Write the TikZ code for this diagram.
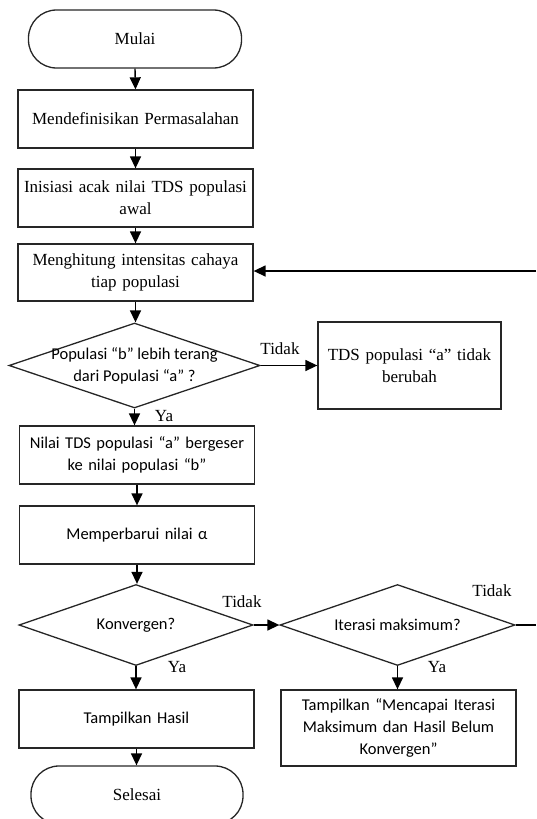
\documentclass[tikz,border=0pt]{standalone}
\usepackage{fontspec}
\setmainfont{Liberation Serif}
\newfontfamily\calib{Carlito}
\usetikzlibrary{shapes.geometric,arrows.meta}
\tikzset{
  base/.style={draw=black!85, line width=1.3pt, inner sep=2pt},
  serif/.style={font=\fontsize{17}{22}\selectfont},
  sans/.style={font=\calib\fontsize{16.5}{22}\selectfont},
  proc/.style={base, rectangle, minimum width=235pt, minimum height=58pt, align=center, text width=225pt},
  term/.style={base, rectangle, rounded corners=28pt, minimum width=213pt, minimum height=58pt},
  dia/.style={base, diamond, inner sep=0pt},
  lbl/.style={serif, inner sep=0pt},
  arr/.style={line width=1.4pt, -{Triangle[length=12pt,width=11pt]}},
  ln/.style={line width=1.4pt}
}
\begin{document}
\begin{tikzpicture}[x=1pt,y=-1pt]
\useasboundingbox (0,0) rectangle (536,819);
% main column
\node[term, serif] (mulai) at (135,39) {Mulai};
\node[proc, serif] (b1) at (135.5,119) {Mendefinisikan Permasalahan};
\node[proc, serif] (b2) at (135.5,198) {Inisiasi acak nilai TDS populasi\\awal};
\node[proc, serif, minimum height=57pt] (b3) at (135.5,272.5) {Menghitung intensitas cahaya\\tiap populasi};
\node[dia, minimum width=251pt, minimum height=85pt] (d1) at (134.5,365.5) {};
\node[sans, align=center, inner sep=0pt] (d1t) at (d1.center) {Populasi “b” lebih terang\\dari Populasi “a” ?};
\node[proc, serif, minimum width=183pt, minimum height=87pt, text width=175pt] (tds) at (409.5,365.5) {TDS populasi “a” tidak\\berubah};
\node[proc, sans] (b4) at (137,455) {Nilai TDS populasi “a” bergeser\\ke nilai populasi “b”};
\node[proc, sans] (b5) at (137,535) {Memperbarui nilai α};
\node[dia, minimum width=234pt, minimum height=81pt] (d2) at (136,625) {};
\node[sans, inner sep=0pt] (d2t) at (d2.center) {Konvergen?};
\node[dia, minimum width=235pt, minimum height=81pt] (d3) at (397.5,625) {};
\node[sans, inner sep=0pt] (d3t) at (d3.center) {Iterasi maksimum?};
\node[proc, sans] (th) at (136.5,719) {Tampilkan Hasil};
\node[proc, sans, minimum height=76pt] (tm) at (398.5,728) {Tampilkan “Mencapai Iterasi\\Maksimum dan Hasil Belum\\Konvergen”};
\node[term, serif, minimum width=212pt] (selesai) at (137,795) {Selesai};
% coordinates
\coordinate (fbR) at (536,271);
\coordinate (rEnd) at (536,625);
% connectors
\draw[arr] (mulai.south) -- (b1.north);
\draw[arr] (b1.south) -- (b2.north);
\draw[arr] (b2.south) -- (b3.north);
\draw[arr] (b3.south) -- (b3.south |- d1.north);
\draw[arr] (d1.east) -- (tds.west |- d1.east);
\draw[arr] (d1.south) -- (d1.south |- b4.north);
\draw[arr] (b4.south) -- (b4.south |- b5.north);
\draw[arr] (b5.south) -- (b5.south |- d2.north);
\draw[arr] (d2.east) -- (d3.west);
\draw[arr] (d2.south) -- (d2.south |- th.north);
\draw[arr] (th.south) -- (th.south |- selesai.north);
\draw[arr] (d3.south) -- (d3.south |- tm.north);
\draw[ln] (d3.east) -- (rEnd);
\draw[arr] (fbR) -- (fbR -| b3.east);
% labels
\node[lbl] (t1) at (280,349) {Tidak};
\node[lbl] (y1) at (164,416) {Ya};
\node[lbl] (t2) at (242,602) {Tidak};
\node[lbl] (t3) at (492,591) {Tidak};
\node[lbl] (y2) at (177,667) {Ya};
\node[lbl] (y3) at (437,667) {Ya};
\end{tikzpicture}
\end{document}
